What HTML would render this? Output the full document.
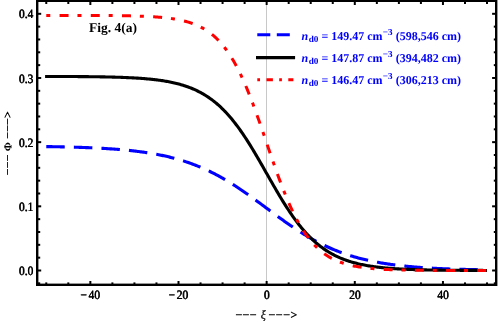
<!DOCTYPE html>
<html><head><meta charset="utf-8"><title>Fig. 4(a)</title>
<style>
html,body{margin:0;padding:0;background:#fff;}
body{width:498px;height:322px;overflow:hidden;font-family:"Liberation Serif",serif;}
svg{display:block;will-change:transform;}
text{font-family:"Liberation Serif",serif;text-rendering:geometricPrecision;}
</style></head><body>
<svg width="498" height="322" viewBox="0 0 498 322">
<rect x="0" y="0" width="498" height="322" fill="#fff"/>
<line x1="266.5" y1="0.80" x2="266.5" y2="284.80" stroke="#c8c8c8" stroke-width="1"/>
<g fill="none" stroke-linecap="butt" stroke-linejoin="round">
<path d="M46.27 146.58 L47.38 146.60 L48.48 146.61 L49.58 146.63 L50.68 146.65 L51.78 146.67 L52.89 146.69 L53.99 146.71 L55.09 146.73 L56.19 146.75 L57.29 146.77 L58.40 146.79 L59.50 146.81 L60.60 146.84 L61.70 146.86 L62.80 146.89 L63.91 146.91 L65.01 146.94 L66.11 146.96 L67.21 146.99 L68.31 147.02 L69.41 147.05 L70.52 147.08 L71.62 147.11 L72.72 147.14 L73.82 147.17 L74.92 147.20 L76.03 147.24 L77.13 147.27 L78.23 147.30 L79.33 147.34 L80.43 147.38 L81.53 147.42 L82.64 147.45 L83.74 147.49 L84.84 147.54 L85.94 147.58 L87.04 147.62 L88.15 147.67 L89.25 147.71 L90.35 147.76 L91.45 147.81 L92.55 147.85 L93.66 147.90 L94.76 147.96 L95.86 148.01 L96.96 148.06 L98.06 148.12 L99.16 148.18 L100.27 148.24 L101.37 148.30 L102.47 148.36 L103.57 148.42 L104.67 148.49 L105.78 148.55 L106.88 148.62 L107.98 148.69 L109.08 148.76 L110.18 148.84 L111.29 148.91 L112.39 148.99 L113.49 149.07 L114.59 149.15 L115.69 149.23 L116.79 149.32 L117.90 149.41 L119.00 149.50 L120.10 149.59 L121.20 149.68 L122.30 149.78 L123.41 149.88 L124.51 149.98 L125.61 150.08 L126.71 150.19 L127.81 150.30 L128.92 150.41 L130.02 150.53 L131.12 150.65 L132.22 150.77 L133.32 150.89 L134.42 151.02 L135.53 151.15 L136.63 151.28 L137.73 151.42 L138.83 151.55 L139.93 151.70 L141.04 151.84 L142.14 151.99 L143.24 152.15 L144.34 152.30 L145.44 152.47 L146.55 152.63 L147.65 152.80 L148.75 152.97 L149.85 153.15 L150.95 153.33 L152.05 153.51 L153.16 153.70 L154.26 153.90 L155.36 154.10 L156.46 154.30 L157.56 154.51 L158.67 154.72 L159.77 154.94 L160.87 155.16 L161.97 155.39 L163.07 155.62 L164.18 155.86 L165.28 156.10 L166.38 156.35 L167.48 156.60 L168.58 156.86 L169.69 157.13 L170.79 157.40 L171.89 157.67 L172.99 157.96 L174.09 158.24 L175.19 158.54 L176.30 158.84 L177.40 159.15 L178.50 159.46 L179.60 159.78 L180.70 160.11 L181.81 160.44 L182.91 160.78 L184.01 161.13 L185.11 161.49 L186.21 161.85 L187.31 162.22 L188.42 162.59 L189.52 162.98 L190.62 163.37 L191.72 163.77 L192.82 164.17 L193.93 164.59 L195.03 165.01 L196.13 165.44 L197.23 165.87 L198.33 166.32 L199.44 166.77 L200.54 167.23 L201.64 167.70 L202.74 168.18 L203.84 168.66 L204.94 169.15 L206.05 169.65 L207.15 170.16 L208.25 170.68 L209.35 171.21 L210.45 171.74 L211.56 172.28 L212.66 172.83 L213.76 173.39 L214.86 173.96 L215.96 174.54 L217.07 175.12 L218.17 175.71 L219.27 176.31 L220.37 176.92 L221.47 177.54 L222.57 178.16 L223.68 178.80 L224.78 179.44 L225.88 180.09 L226.98 180.74 L228.08 181.41 L229.19 182.08 L230.29 182.76 L231.39 183.44 L232.49 184.13 L233.59 184.84 L234.70 185.54 L235.80 186.26 L236.90 186.98 L238.00 187.71 L239.10 188.44 L240.20 189.18 L241.31 189.92 L242.41 190.68 L243.51 191.43 L244.61 192.20 L245.71 192.96 L246.82 193.74 L247.92 194.51 L249.02 195.30 L250.12 196.08 L251.22 196.87 L252.33 197.67 L253.43 198.47 L254.53 199.27 L255.63 200.07 L256.73 200.88 L257.83 201.69 L258.94 202.50 L260.04 203.31 L261.14 204.13 L262.24 204.94 L263.34 205.76 L264.45 206.58 L265.55 207.40 L266.65 208.22 L267.75 209.04 L268.85 209.86 L269.96 210.68 L271.06 211.49 L272.16 212.31 L273.26 213.12 L274.36 213.94 L275.46 214.75 L276.57 215.56 L277.67 216.37 L278.77 217.17 L279.87 217.97 L280.97 218.77 L282.08 219.56 L283.18 220.35 L284.28 221.14 L285.38 221.92 L286.48 222.70 L287.59 223.47 L288.69 224.24 L289.79 225.00 L290.89 225.76 L291.99 226.51 L293.09 227.26 L294.20 228.00 L295.30 228.73 L296.40 229.46 L297.50 230.18 L298.60 230.89 L299.71 231.60 L300.81 232.30 L301.91 232.99 L303.01 233.68 L304.11 234.36 L305.22 235.03 L306.32 235.70 L307.42 236.35 L308.52 237.00 L309.62 237.64 L310.72 238.27 L311.83 238.90 L312.93 239.51 L314.03 240.12 L315.13 240.72 L316.23 241.32 L317.34 241.90 L318.44 242.47 L319.54 243.04 L320.64 243.60 L321.74 244.15 L322.85 244.69 L323.95 245.23 L325.05 245.76 L326.15 246.27 L327.25 246.78 L328.35 247.28 L329.46 247.78 L330.56 248.26 L331.66 248.74 L332.76 249.21 L333.86 249.67 L334.97 250.12 L336.07 250.56 L337.17 251.00 L338.27 251.43 L339.37 251.85 L340.48 252.26 L341.58 252.67 L342.68 253.07 L343.78 253.46 L344.88 253.84 L345.98 254.22 L347.09 254.59 L348.19 254.95 L349.29 255.30 L350.39 255.65 L351.49 255.99 L352.60 256.33 L353.70 256.65 L354.80 256.97 L355.90 257.29 L357.00 257.60 L358.11 257.90 L359.21 258.19 L360.31 258.48 L361.41 258.76 L362.51 259.04 L363.61 259.31 L364.72 259.58 L365.82 259.84 L366.92 260.09 L368.02 260.34 L369.12 260.58 L370.23 260.82 L371.33 261.05 L372.43 261.28 L373.53 261.50 L374.63 261.72 L375.74 261.93 L376.84 262.14 L377.94 262.34 L379.04 262.54 L380.14 262.73 L381.25 262.92 L382.35 263.11 L383.45 263.29 L384.55 263.47 L385.65 263.64 L386.75 263.81 L387.86 263.97 L388.96 264.13 L390.06 264.29 L391.16 264.44 L392.26 264.59 L393.37 264.74 L394.47 264.88 L395.57 265.02 L396.67 265.16 L397.77 265.29 L398.88 265.42 L399.98 265.55 L401.08 265.67 L402.18 265.79 L403.28 265.91 L404.38 266.02 L405.49 266.14 L406.59 266.25 L407.69 266.35 L408.79 266.46 L409.89 266.56 L411.00 266.66 L412.10 266.75 L413.20 266.85 L414.30 266.94 L415.40 267.03 L416.50 267.12 L417.61 267.20 L418.71 267.29 L419.81 267.37 L420.91 267.45 L422.01 267.53 L423.12 267.60 L424.22 267.67 L425.32 267.75 L426.42 267.82 L427.52 267.88 L428.63 267.95 L429.73 268.02 L430.83 268.08 L431.93 268.14 L433.03 268.20 L434.13 268.26 L435.24 268.32 L436.34 268.37 L437.44 268.43 L438.54 268.48 L439.64 268.53 L440.75 268.58 L441.85 268.63 L442.95 268.68 L444.05 268.73 L445.15 268.77 L446.26 268.82 L447.36 268.86 L448.46 268.90 L449.56 268.94 L450.66 268.98 L451.76 269.02 L452.87 269.06 L453.97 269.10 L455.07 269.13 L456.17 269.17 L457.27 269.20 L458.38 269.23 L459.48 269.27 L460.58 269.30 L461.68 269.33 L462.78 269.36 L463.89 269.39 L464.99 269.42 L466.09 269.45 L467.19 269.47 L468.29 269.50 L469.39 269.52 L470.50 269.55 L471.60 269.57 L472.70 269.60 L473.80 269.62 L474.90 269.64 L476.01 269.67 L477.11 269.69 L478.21 269.71 L479.31 269.73 L480.41 269.75 L481.52 269.77 L482.62 269.79 L483.72 269.81 L484.82 269.82 L485.92 269.84 L487.02 269.86" stroke="#0000ff" stroke-width="3.1" stroke-dasharray="18.5 9.1"/>
<path d="M45.08 76.43 L46.19 76.44 L47.29 76.44 L48.40 76.44 L49.50 76.44 L50.61 76.45 L51.71 76.45 L52.82 76.45 L53.92 76.46 L55.03 76.46 L56.13 76.46 L57.24 76.47 L58.34 76.47 L59.45 76.48 L60.55 76.48 L61.66 76.48 L62.76 76.49 L63.87 76.49 L64.97 76.50 L66.08 76.50 L67.18 76.51 L68.29 76.52 L69.39 76.52 L70.50 76.53 L71.60 76.53 L72.71 76.54 L73.81 76.55 L74.92 76.55 L76.02 76.56 L77.13 76.57 L78.23 76.58 L79.34 76.59 L80.44 76.60 L81.55 76.60 L82.65 76.61 L83.75 76.62 L84.86 76.63 L85.96 76.65 L87.07 76.66 L88.17 76.67 L89.28 76.68 L90.38 76.69 L91.49 76.71 L92.59 76.72 L93.70 76.73 L94.80 76.75 L95.91 76.76 L97.01 76.78 L98.12 76.80 L99.22 76.81 L100.33 76.83 L101.43 76.85 L102.54 76.87 L103.64 76.89 L104.75 76.91 L105.85 76.94 L106.96 76.96 L108.06 76.98 L109.17 77.01 L110.27 77.03 L111.38 77.06 L112.48 77.09 L113.59 77.12 L114.69 77.15 L115.80 77.18 L116.90 77.21 L118.01 77.25 L119.11 77.28 L120.21 77.32 L121.32 77.36 L122.42 77.40 L123.53 77.44 L124.63 77.48 L125.74 77.53 L126.84 77.58 L127.95 77.63 L129.05 77.68 L130.16 77.73 L131.26 77.78 L132.37 77.84 L133.47 77.90 L134.58 77.96 L135.68 78.03 L136.79 78.10 L137.89 78.17 L139.00 78.24 L140.10 78.31 L141.21 78.39 L142.31 78.47 L143.42 78.56 L144.52 78.65 L145.63 78.74 L146.73 78.84 L147.84 78.94 L148.94 79.04 L150.05 79.15 L151.15 79.26 L152.26 79.38 L153.36 79.50 L154.47 79.62 L155.57 79.75 L156.67 79.89 L157.78 80.03 L158.88 80.18 L159.99 80.33 L161.09 80.49 L162.20 80.65 L163.30 80.82 L164.41 81.00 L165.51 81.19 L166.62 81.38 L167.72 81.58 L168.83 81.79 L169.93 82.00 L171.04 82.22 L172.14 82.46 L173.25 82.70 L174.35 82.95 L175.46 83.21 L176.56 83.48 L177.67 83.76 L178.77 84.05 L179.88 84.35 L180.98 84.66 L182.09 84.98 L183.19 85.32 L184.30 85.67 L185.40 86.03 L186.51 86.41 L187.61 86.79 L188.72 87.20 L189.82 87.61 L190.93 88.05 L192.03 88.49 L193.13 88.96 L194.24 89.44 L195.34 89.94 L196.45 90.45 L197.55 90.98 L198.66 91.54 L199.76 92.11 L200.87 92.70 L201.97 93.31 L203.08 93.94 L204.18 94.59 L205.29 95.26 L206.39 95.96 L207.50 96.67 L208.60 97.41 L209.71 98.18 L210.81 98.97 L211.92 99.78 L213.02 100.62 L214.13 101.48 L215.23 102.37 L216.34 103.29 L217.44 104.23 L218.55 105.20 L219.65 106.20 L220.76 107.23 L221.86 108.28 L222.97 109.37 L224.07 110.48 L225.18 111.62 L226.28 112.80 L227.39 114.00 L228.49 115.23 L229.59 116.49 L230.70 117.78 L231.80 119.10 L232.91 120.45 L234.01 121.84 L235.12 123.25 L236.22 124.69 L237.33 126.16 L238.43 127.66 L239.54 129.19 L240.64 130.74 L241.75 132.33 L242.85 133.94 L243.96 135.57 L245.06 137.24 L246.17 138.92 L247.27 140.64 L248.38 142.37 L249.48 144.13 L250.59 145.91 L251.69 147.71 L252.80 149.53 L253.90 151.37 L255.01 153.22 L256.11 155.09 L257.22 156.98 L258.32 158.87 L259.43 160.78 L260.53 162.70 L261.64 164.63 L262.74 166.56 L263.85 168.50 L264.95 170.44 L266.05 172.39 L267.16 174.33 L268.26 176.28 L269.37 178.22 L270.47 180.16 L271.58 182.10 L272.68 184.02 L273.79 185.94 L274.89 187.85 L276.00 189.75 L277.10 191.63 L278.21 193.51 L279.31 195.36 L280.42 197.20 L281.52 199.02 L282.63 200.82 L283.73 202.60 L284.84 204.36 L285.94 206.10 L287.05 207.81 L288.15 209.50 L289.26 211.17 L290.36 212.81 L291.47 214.42 L292.57 216.01 L293.68 217.57 L294.78 219.10 L295.89 220.60 L296.99 222.07 L298.10 223.51 L299.20 224.93 L300.31 226.31 L301.41 227.66 L302.52 228.99 L303.62 230.28 L304.72 231.55 L305.83 232.78 L306.93 233.98 L308.04 235.16 L309.14 236.30 L310.25 237.42 L311.35 238.50 L312.46 239.56 L313.56 240.59 L314.67 241.59 L315.77 242.56 L316.88 243.51 L317.98 244.43 L319.09 245.32 L320.19 246.19 L321.30 247.03 L322.40 247.84 L323.51 248.63 L324.61 249.40 L325.72 250.14 L326.82 250.86 L327.93 251.56 L329.03 252.23 L330.14 252.89 L331.24 253.52 L332.35 254.13 L333.45 254.72 L334.56 255.29 L335.66 255.84 L336.77 256.38 L337.87 256.89 L338.98 257.39 L340.08 257.88 L341.18 258.34 L342.29 258.79 L343.39 259.22 L344.50 259.64 L345.60 260.05 L346.71 260.44 L347.81 260.81 L348.92 261.17 L350.02 261.52 L351.13 261.86 L352.23 262.19 L353.34 262.50 L354.44 262.80 L355.55 263.09 L356.65 263.37 L357.76 263.64 L358.86 263.90 L359.97 264.15 L361.07 264.40 L362.18 264.63 L363.28 264.85 L364.39 265.07 L365.49 265.28 L366.60 265.48 L367.70 265.67 L368.81 265.85 L369.91 266.03 L371.02 266.20 L372.12 266.37 L373.23 266.53 L374.33 266.68 L375.44 266.83 L376.54 266.97 L377.64 267.11 L378.75 267.24 L379.85 267.36 L380.96 267.49 L382.06 267.60 L383.17 267.72 L384.27 267.82 L385.38 267.93 L386.48 268.03 L387.59 268.12 L388.69 268.22 L389.80 268.30 L390.90 268.39 L392.01 268.47 L393.11 268.55 L394.22 268.63 L395.32 268.70 L396.43 268.77 L397.53 268.84 L398.64 268.90 L399.74 268.96 L400.85 269.02 L401.95 269.08 L403.06 269.14 L404.16 269.19 L405.27 269.24 L406.37 269.29 L407.48 269.34 L408.58 269.38 L409.69 269.43 L410.79 269.47 L411.90 269.51 L413.00 269.55 L414.10 269.59 L415.21 269.62 L416.31 269.66 L417.42 269.69 L418.52 269.72 L419.63 269.75 L420.73 269.78 L421.84 269.81 L422.94 269.84 L424.05 269.86 L425.15 269.89 L426.26 269.91 L427.36 269.93 L428.47 269.96 L429.57 269.98 L430.68 270.00 L431.78 270.02 L432.89 270.04 L433.99 270.05 L435.10 270.07 L436.20 270.09 L437.31 270.10 L438.41 270.12 L439.52 270.14 L440.62 270.15 L441.73 270.16 L442.83 270.18 L443.94 270.19 L445.04 270.20 L446.15 270.21 L447.25 270.22 L448.36 270.24 L449.46 270.25 L450.56 270.26 L451.67 270.27 L452.77 270.27 L453.88 270.28 L454.98 270.29 L456.09 270.30 L457.19 270.31 L458.30 270.32 L459.40 270.32 L460.51 270.33 L461.61 270.34 L462.72 270.34 L463.82 270.35 L464.93 270.35 L466.03 270.36 L467.14 270.37 L468.24 270.37 L469.35 270.38 L470.45 270.38 L471.56 270.39 L472.66 270.39 L473.77 270.39 L474.87 270.40 L475.98 270.40 L477.08 270.41 L478.19 270.41 L479.29 270.41 L480.40 270.42 L481.50 270.42 L482.61 270.42 L483.71 270.43 L484.82 270.43 L485.92 270.43 L487.03 270.43" stroke="#000" stroke-width="3.1"/>
<path d="M46.27 15.41 L47.38 15.41 L48.48 15.42 L49.58 15.42 L50.68 15.42 L51.78 15.42 L52.89 15.42 L53.99 15.42 L55.09 15.42 L56.19 15.42 L57.29 15.42 L58.40 15.42 L59.50 15.42 L60.60 15.42 L61.70 15.42 L62.80 15.43 L63.91 15.43 L65.01 15.43 L66.11 15.43 L67.21 15.43 L68.31 15.43 L69.41 15.43 L70.52 15.43 L71.62 15.44 L72.72 15.44 L73.82 15.44 L74.92 15.44 L76.03 15.44 L77.13 15.45 L78.23 15.45 L79.33 15.45 L80.43 15.45 L81.53 15.45 L82.64 15.46 L83.74 15.46 L84.84 15.46 L85.94 15.47 L87.04 15.47 L88.15 15.47 L89.25 15.48 L90.35 15.48 L91.45 15.48 L92.55 15.49 L93.66 15.49 L94.76 15.50 L95.86 15.50 L96.96 15.51 L98.06 15.51 L99.16 15.52 L100.27 15.52 L101.37 15.53 L102.47 15.54 L103.57 15.54 L104.67 15.55 L105.78 15.56 L106.88 15.57 L107.98 15.57 L109.08 15.58 L110.18 15.59 L111.29 15.60 L112.39 15.61 L113.49 15.62 L114.59 15.64 L115.69 15.65 L116.79 15.66 L117.90 15.67 L119.00 15.69 L120.10 15.70 L121.20 15.72 L122.30 15.73 L123.41 15.75 L124.51 15.77 L125.61 15.79 L126.71 15.81 L127.81 15.83 L128.92 15.85 L130.02 15.87 L131.12 15.90 L132.22 15.92 L133.32 15.95 L134.42 15.98 L135.53 16.01 L136.63 16.04 L137.73 16.07 L138.83 16.11 L139.93 16.15 L141.04 16.18 L142.14 16.23 L143.24 16.27 L144.34 16.31 L145.44 16.36 L146.55 16.41 L147.65 16.46 L148.75 16.52 L149.85 16.57 L150.95 16.63 L152.05 16.70 L153.16 16.76 L154.26 16.84 L155.36 16.91 L156.46 16.99 L157.56 17.07 L158.67 17.16 L159.77 17.25 L160.87 17.34 L161.97 17.44 L163.07 17.55 L164.18 17.66 L165.28 17.77 L166.38 17.90 L167.48 18.02 L168.58 18.16 L169.69 18.30 L170.79 18.45 L171.89 18.61 L172.99 18.77 L174.09 18.94 L175.19 19.12 L176.30 19.32 L177.40 19.52 L178.50 19.73 L179.60 19.95 L180.70 20.18 L181.81 20.42 L182.91 20.68 L184.01 20.95 L185.11 21.23 L186.21 21.53 L187.31 21.84 L188.42 22.16 L189.52 22.50 L190.62 22.86 L191.72 23.24 L192.82 23.63 L193.93 24.05 L195.03 24.48 L196.13 24.94 L197.23 25.41 L198.33 25.91 L199.44 26.44 L200.54 26.99 L201.64 27.56 L202.74 28.16 L203.84 28.79 L204.94 29.45 L206.05 30.14 L207.15 30.86 L208.25 31.61 L209.35 32.40 L210.45 33.23 L211.56 34.09 L212.66 34.98 L213.76 35.92 L214.86 36.90 L215.96 37.92 L217.07 38.98 L218.17 40.09 L219.27 41.25 L220.37 42.45 L221.47 43.70 L222.57 45.01 L223.68 46.36 L224.78 47.77 L225.88 49.23 L226.98 50.75 L228.08 52.32 L229.19 53.95 L230.29 55.64 L231.39 57.39 L232.49 59.21 L233.59 61.08 L234.70 63.01 L235.80 65.01 L236.90 67.07 L238.00 69.19 L239.10 71.38 L240.20 73.63 L241.31 75.94 L242.41 78.31 L243.51 80.75 L244.61 83.25 L245.71 85.81 L246.82 88.42 L247.92 91.10 L249.02 93.83 L250.12 96.61 L251.22 99.45 L252.33 102.33 L253.43 105.26 L254.53 108.24 L255.63 111.26 L256.73 114.31 L257.83 117.40 L258.94 120.53 L260.04 123.68 L261.14 126.85 L262.24 130.05 L263.34 133.26 L264.45 136.48 L265.55 139.72 L266.65 142.95 L267.75 146.19 L268.85 149.42 L269.96 152.65 L271.06 155.86 L272.16 159.05 L273.26 162.23 L274.36 165.38 L275.46 168.50 L276.57 171.59 L277.67 174.65 L278.77 177.66 L279.87 180.64 L280.97 183.57 L282.08 186.46 L283.18 189.29 L284.28 192.08 L285.38 194.81 L286.48 197.48 L287.59 200.10 L288.69 202.66 L289.79 205.15 L290.89 207.59 L291.99 209.96 L293.09 212.28 L294.20 214.53 L295.30 216.71 L296.40 218.84 L297.50 220.90 L298.60 222.89 L299.71 224.83 L300.81 226.70 L301.91 228.51 L303.01 230.26 L304.11 231.95 L305.22 233.58 L306.32 235.16 L307.42 236.67 L308.52 238.14 L309.62 239.54 L310.72 240.90 L311.83 242.20 L312.93 243.45 L314.03 244.66 L315.13 245.81 L316.23 246.92 L317.34 247.98 L318.44 249.00 L319.54 249.98 L320.64 250.92 L321.74 251.82 L322.85 252.68 L323.95 253.50 L325.05 254.29 L326.15 255.04 L327.25 255.76 L328.35 256.45 L329.46 257.11 L330.56 257.74 L331.66 258.34 L332.76 258.92 L333.86 259.47 L334.97 259.99 L336.07 260.49 L337.17 260.97 L338.27 261.42 L339.37 261.86 L340.48 262.27 L341.58 262.66 L342.68 263.04 L343.78 263.40 L344.88 263.74 L345.98 264.07 L347.09 264.38 L348.19 264.67 L349.29 264.96 L350.39 265.23 L351.49 265.48 L352.60 265.73 L353.70 265.96 L354.80 266.18 L355.90 266.39 L357.00 266.59 L358.11 266.78 L359.21 266.96 L360.31 267.13 L361.41 267.30 L362.51 267.46 L363.61 267.60 L364.72 267.75 L365.82 267.88 L366.92 268.01 L368.02 268.13 L369.12 268.25 L370.23 268.36 L371.33 268.46 L372.43 268.56 L373.53 268.66 L374.63 268.75 L375.74 268.84 L376.84 268.92 L377.94 268.99 L379.04 269.07 L380.14 269.14 L381.25 269.21 L382.35 269.27 L383.45 269.33 L384.55 269.39 L385.65 269.44 L386.75 269.50 L387.86 269.54 L388.96 269.59 L390.06 269.64 L391.16 269.68 L392.26 269.72 L393.37 269.76 L394.47 269.79 L395.57 269.83 L396.67 269.86 L397.77 269.89 L398.88 269.92 L399.98 269.95 L401.08 269.98 L402.18 270.01 L403.28 270.03 L404.38 270.05 L405.49 270.08 L406.59 270.10 L407.69 270.12 L408.79 270.14 L409.89 270.15 L411.00 270.17 L412.10 270.19 L413.20 270.20 L414.30 270.22 L415.40 270.23 L416.50 270.24 L417.61 270.26 L418.71 270.27 L419.81 270.28 L420.91 270.29 L422.01 270.30 L423.12 270.31 L424.22 270.32 L425.32 270.33 L426.42 270.34 L427.52 270.35 L428.63 270.35 L429.73 270.36 L430.83 270.37 L431.93 270.37 L433.03 270.38 L434.13 270.39 L435.24 270.39 L436.34 270.40 L437.44 270.40 L438.54 270.41 L439.64 270.41 L440.75 270.42 L441.85 270.42 L442.95 270.42 L444.05 270.43 L445.15 270.43 L446.26 270.43 L447.36 270.44 L448.46 270.44 L449.56 270.44 L450.66 270.45 L451.76 270.45 L452.87 270.45 L453.97 270.45 L455.07 270.46 L456.17 270.46 L457.27 270.46 L458.38 270.46 L459.48 270.46 L460.58 270.47 L461.68 270.47 L462.78 270.47 L463.89 270.47 L464.99 270.47 L466.09 270.47 L467.19 270.48 L468.29 270.48 L469.39 270.48 L470.50 270.48 L471.60 270.48 L472.70 270.48 L473.80 270.48 L474.90 270.48 L476.01 270.48 L477.11 270.48 L478.21 270.49 L479.31 270.49 L480.41 270.49 L481.52 270.49 L482.62 270.49 L483.72 270.49 L484.82 270.49 L485.92 270.49 L487.02 270.49" stroke="#ff0000" stroke-width="3" stroke-dasharray="4 9.3 9 8.9"/>
</g>
<g stroke="#000" stroke-width="2">
<line x1="46.27" y1="284.80" x2="46.27" y2="282.40"/>
<line x1="46.27" y1="0.80" x2="46.27" y2="4.00"/>
<line x1="68.31" y1="284.80" x2="68.31" y2="282.40"/>
<line x1="68.31" y1="0.80" x2="68.31" y2="4.00"/>
<line x1="90.35" y1="284.80" x2="90.35" y2="281.00"/>
<line x1="90.35" y1="0.80" x2="90.35" y2="5.00"/>
<line x1="112.39" y1="284.80" x2="112.39" y2="282.40"/>
<line x1="112.39" y1="0.80" x2="112.39" y2="4.00"/>
<line x1="134.42" y1="284.80" x2="134.42" y2="282.40"/>
<line x1="134.42" y1="0.80" x2="134.42" y2="4.00"/>
<line x1="156.46" y1="284.80" x2="156.46" y2="282.40"/>
<line x1="156.46" y1="0.80" x2="156.46" y2="4.00"/>
<line x1="178.50" y1="284.80" x2="178.50" y2="281.00"/>
<line x1="178.50" y1="0.80" x2="178.50" y2="5.00"/>
<line x1="200.54" y1="284.80" x2="200.54" y2="282.40"/>
<line x1="200.54" y1="0.80" x2="200.54" y2="4.00"/>
<line x1="222.57" y1="284.80" x2="222.57" y2="282.40"/>
<line x1="222.57" y1="0.80" x2="222.57" y2="4.00"/>
<line x1="244.61" y1="284.80" x2="244.61" y2="282.40"/>
<line x1="244.61" y1="0.80" x2="244.61" y2="4.00"/>
<line x1="266.65" y1="284.80" x2="266.65" y2="281.00"/>
<line x1="266.65" y1="0.80" x2="266.65" y2="5.00"/>
<line x1="288.69" y1="284.80" x2="288.69" y2="282.40"/>
<line x1="288.69" y1="0.80" x2="288.69" y2="4.00"/>
<line x1="310.72" y1="284.80" x2="310.72" y2="282.40"/>
<line x1="310.72" y1="0.80" x2="310.72" y2="4.00"/>
<line x1="332.76" y1="284.80" x2="332.76" y2="282.40"/>
<line x1="332.76" y1="0.80" x2="332.76" y2="4.00"/>
<line x1="354.80" y1="284.80" x2="354.80" y2="281.00"/>
<line x1="354.80" y1="0.80" x2="354.80" y2="5.00"/>
<line x1="376.84" y1="284.80" x2="376.84" y2="282.40"/>
<line x1="376.84" y1="0.80" x2="376.84" y2="4.00"/>
<line x1="398.88" y1="284.80" x2="398.88" y2="282.40"/>
<line x1="398.88" y1="0.80" x2="398.88" y2="4.00"/>
<line x1="420.91" y1="284.80" x2="420.91" y2="282.40"/>
<line x1="420.91" y1="0.80" x2="420.91" y2="4.00"/>
<line x1="442.95" y1="284.80" x2="442.95" y2="281.00"/>
<line x1="442.95" y1="0.80" x2="442.95" y2="5.00"/>
<line x1="464.99" y1="284.80" x2="464.99" y2="282.40"/>
<line x1="464.99" y1="0.80" x2="464.99" y2="4.00"/>
<line x1="487.02" y1="284.80" x2="487.02" y2="282.40"/>
<line x1="487.02" y1="0.80" x2="487.02" y2="4.00"/>
<line x1="37.20" y1="283.33" x2="40.20" y2="283.33"/>
<line x1="496.20" y1="283.33" x2="493.80" y2="283.33"/>
<line x1="37.20" y1="270.50" x2="41.20" y2="270.50"/>
<line x1="496.20" y1="270.50" x2="492.10" y2="270.50"/>
<line x1="37.20" y1="257.67" x2="40.20" y2="257.67"/>
<line x1="496.20" y1="257.67" x2="493.80" y2="257.67"/>
<line x1="37.20" y1="244.83" x2="40.20" y2="244.83"/>
<line x1="496.20" y1="244.83" x2="493.80" y2="244.83"/>
<line x1="37.20" y1="232.00" x2="40.20" y2="232.00"/>
<line x1="496.20" y1="232.00" x2="493.80" y2="232.00"/>
<line x1="37.20" y1="219.16" x2="40.20" y2="219.16"/>
<line x1="496.20" y1="219.16" x2="493.80" y2="219.16"/>
<line x1="37.20" y1="206.32" x2="41.20" y2="206.32"/>
<line x1="496.20" y1="206.32" x2="492.10" y2="206.32"/>
<line x1="37.20" y1="193.49" x2="40.20" y2="193.49"/>
<line x1="496.20" y1="193.49" x2="493.80" y2="193.49"/>
<line x1="37.20" y1="180.65" x2="40.20" y2="180.65"/>
<line x1="496.20" y1="180.65" x2="493.80" y2="180.65"/>
<line x1="37.20" y1="167.82" x2="40.20" y2="167.82"/>
<line x1="496.20" y1="167.82" x2="493.80" y2="167.82"/>
<line x1="37.20" y1="154.99" x2="40.20" y2="154.99"/>
<line x1="496.20" y1="154.99" x2="493.80" y2="154.99"/>
<line x1="37.20" y1="142.15" x2="41.20" y2="142.15"/>
<line x1="496.20" y1="142.15" x2="492.10" y2="142.15"/>
<line x1="37.20" y1="129.31" x2="40.20" y2="129.31"/>
<line x1="496.20" y1="129.31" x2="493.80" y2="129.31"/>
<line x1="37.20" y1="116.48" x2="40.20" y2="116.48"/>
<line x1="496.20" y1="116.48" x2="493.80" y2="116.48"/>
<line x1="37.20" y1="103.64" x2="40.20" y2="103.64"/>
<line x1="496.20" y1="103.64" x2="493.80" y2="103.64"/>
<line x1="37.20" y1="90.81" x2="40.20" y2="90.81"/>
<line x1="496.20" y1="90.81" x2="493.80" y2="90.81"/>
<line x1="37.20" y1="77.97" x2="41.20" y2="77.97"/>
<line x1="496.20" y1="77.97" x2="492.10" y2="77.97"/>
<line x1="37.20" y1="65.14" x2="40.20" y2="65.14"/>
<line x1="496.20" y1="65.14" x2="493.80" y2="65.14"/>
<line x1="37.20" y1="52.30" x2="40.20" y2="52.30"/>
<line x1="496.20" y1="52.30" x2="493.80" y2="52.30"/>
<line x1="37.20" y1="39.47" x2="40.20" y2="39.47"/>
<line x1="496.20" y1="39.47" x2="493.80" y2="39.47"/>
<line x1="37.20" y1="26.63" x2="40.20" y2="26.63"/>
<line x1="496.20" y1="26.63" x2="493.80" y2="26.63"/>
<line x1="37.20" y1="13.80" x2="41.20" y2="13.80"/>
<line x1="496.20" y1="13.80" x2="492.10" y2="13.80"/>
<line x1="37.20" y1="0.97" x2="40.20" y2="0.97"/>
<line x1="496.20" y1="0.97" x2="493.80" y2="0.97"/>
</g>
<rect x="37.20" y="0.80" width="459.00" height="284.00" fill="none" stroke="#000" stroke-width="2.4"/>
<g id="lbl" font-size="12.7" fill="#000" stroke="#000" stroke-width="0.14">
<text transform="translate(90.05,299.2) scale(0.900,1)" text-anchor="middle">−<tspan dx="1.9">40</tspan></text>
<text transform="translate(178.20,299.2) scale(0.900,1)" text-anchor="middle">−<tspan dx="1.9">20</tspan></text>
<text transform="translate(266.65,299.2) scale(0.900,1)" text-anchor="middle">0</text>
<text transform="translate(354.80,299.2) scale(0.900,1)" text-anchor="middle">20</text>
<text transform="translate(442.95,299.2) scale(0.900,1)" text-anchor="middle">40</text>
<text transform="translate(33.1,275.05) scale(0.900,1)" text-anchor="end">0.0</text>
<text transform="translate(33.1,210.88) scale(0.900,1)" text-anchor="end">0.1</text>
<text transform="translate(33.1,146.70) scale(0.900,1)" text-anchor="end">0.2</text>
<text transform="translate(33.1,82.52) scale(0.900,1)" text-anchor="end">0.3</text>
<text transform="translate(33.1,18.35) scale(0.900,1)" text-anchor="end">0.4</text>
</g>
<use href="#lbl" x="0.38"/>
<text x="88.9" y="31.8" font-size="13.5" font-weight="bold">Fig. 4(a)</text>
<!-- legend -->
<g fill="none" stroke-linecap="butt">
<path d="M257.3 34.7H270.3M276.8 34.7H289.8" stroke="#0000ff" stroke-width="3"/>
<path d="M256 57.6H295.1" stroke="#000" stroke-width="3.1"/>
<path d="M257.3 79.8H260M266.5 79.8H272.9M279.2 79.8H281.9M288.3 79.8H293.4" stroke="#ff0000" stroke-width="3"/>
</g>
<g font-size="12" font-weight="bold" fill="#0000ff">
<text x="301.5" y="39.6"><tspan font-style="italic">n</tspan><tspan font-size="9.2" dx="0.5" dy="2.4">d0</tspan><tspan dy="-2.4"> = 149.47 cm</tspan><tspan font-size="9.2" dx="0.1" dy="-4.85">−3</tspan><tspan dx="0.15" dy="4.85"> (598,546 cm)</tspan></text>
<text x="301.5" y="61.7"><tspan font-style="italic">n</tspan><tspan font-size="9.2" dx="0.5" dy="2.4">d0</tspan><tspan dy="-2.4"> = 147.87 cm</tspan><tspan font-size="9.2" dx="0.1" dy="-4.85">−3</tspan><tspan dx="0.15" dy="4.85"> (394,482 cm)</tspan></text>
<text x="301.5" y="83.8"><tspan font-style="italic">n</tspan><tspan font-size="9.2" dx="0.5" dy="2.4">d0</tspan><tspan dy="-2.4"> = 146.47 cm</tspan><tspan font-size="9.2" dx="0.1" dy="-4.85">−3</tspan><tspan dx="0.15" dy="4.85"> (306,213 cm)</tspan></text>
</g>
<!-- axis labels -->
<g font-size="12" fill="#000" stroke="#000" stroke-width="0.35">
<text transform="rotate(0.03 267 318)" y="318.7"><tspan x="235.4" letter-spacing="0.4">−−− </tspan><tspan x="260.7" font-style="italic" stroke-width="0.2">ξ </tspan><tspan x="268.5" letter-spacing="0.6">−−−&gt;</tspan></text>
<text transform="translate(11.4,175.2) rotate(-89.97)" x="0" y="0" textLength="64" lengthAdjust="spacing">−−− <tspan font-size="11" font-weight="bold" stroke="none">Φ</tspan> −−−&gt;</text>
</g>
</svg>
</body></html>
